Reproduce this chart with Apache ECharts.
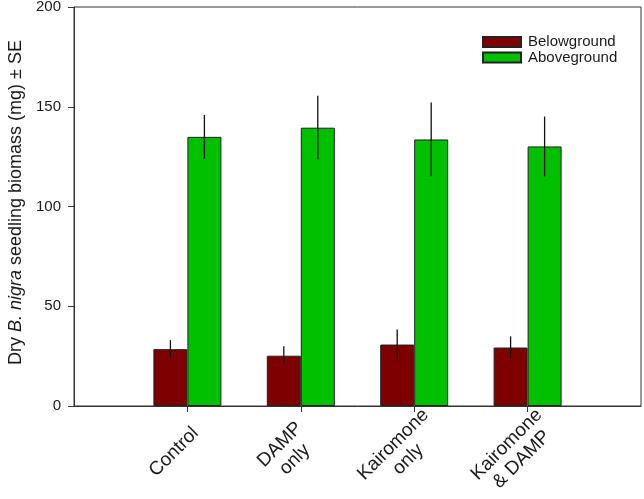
<!DOCTYPE html>
<html>
<head>
<meta charset="utf-8">
<script src="https://cdn.jsdelivr.net/npm/echarts@6/dist/echarts.min.js"></script>
<style>html,body{margin:0;padding:0;background:#fff;}#c{width:644px;height:499px;}</style>
</head>
<body>
<div id="c"></div>
<script>
const categories = ['Control', 'DAMP\nonly', 'Kairomone\nonly', 'Kairomone\n& DAMP'];
const belowground = [28.5, 25.2, 30.8, 29.3];
const belowgroundSE = [4.5, 4.7, 7.6, 5.6];
const aboveground = [134.9, 139.5, 133.6, 130.1];
const abovegroundSE = [11.0, 16.0, 18.5, 15.0];
const yTicks = [0, 50, 100, 150, 200];

const xData = [''].concat(categories, ['']);
const pad = arr => [null].concat(arr, [null]);
const errData = (vals, se) => vals.map((v, i) => [i + 1, v - se[i], v + se[i]]);
const BAR_W = 34;

function errRender(offset) {
  return function (params, api) {
    const lo = api.coord([api.value(0), api.value(1)]);
    const hi = api.coord([api.value(0), api.value(2)]);
    return {
      type: 'line',
      shape: { x1: lo[0] + offset, y1: lo[1], x2: hi[0] + offset, y2: hi[1] },
      style: { stroke: '#111', lineWidth: 1.3 }
    };
  };
}

const chart = echarts.init(document.getElementById('c'));
chart.setOption({
  animation: false,
  backgroundColor: '#fff',
  textStyle: { fontFamily: 'Liberation Sans, Arial, sans-serif' },
  grid: { left: 74, right: 3, top: 7, bottom: 93, outerBoundsMode: 'none', containLabel: false,
          show: true, borderColor: '#333', borderWidth: 1, backgroundColor: 'transparent' },
  legend: {
    orient: 'vertical', left: 482, top: 34.5, padding: 0, itemWidth: 38, itemHeight: 10, itemGap: 0.6,
    icon: 'rect',
    textStyle: { fontSize: 15, lineHeight: 15, color: '#1a1a1a', padding: [0, 0, 0, 2] },
    data: ['Belowground', 'Aboveground']
  },
  xAxis: {
    type: 'category', data: xData, boundaryGap: false,
    axisLine: { lineStyle: { color: '#333', width: 1 } },
    axisTick: { show: true, inside: false, length: 6, interval: (i) => i > 0 && i < xData.length - 1, lineStyle: { color: '#333' } },
    axisLabel: {
      interval: 0, rotate: 45, margin: 46, fontSize: 19, color: '#1a1a1a',
      align: 'center', verticalAlign: 'middle', padding: [0, 19, 19, 0],
      formatter: (v) => v ? v.split('\n').map(s => '{c|' + s + '}').join('\n') : '',
      rich: { c: { align: 'center', fontSize: 19, color: '#1a1a1a', lineHeight: 21 } }
    },
    splitLine: { show: false }
  },
  yAxis: {
    type: 'value', min: 0, max: 200, interval: 50,
    axisLine: { show: true, lineStyle: { color: '#333', width: 1 } },
    axisTick: { show: true, inside: false, length: 6, lineStyle: { color: '#333' } },
    axisLabel: { fontSize: 15, color: '#1a1a1a', margin: 13, formatter: (v) => yTicks.includes(v) ? String(v) : '' },
    splitLine: { show: false },
    name: 'Dry {i|B. nigra} seedling biomass (mg) ± SE',
    nameLocation: 'middle', nameGap: 46,
    nameTextStyle: { fontSize: 18, color: '#1a1a1a', padding: [0, 0, 0, 8], rich: { i: { fontStyle: 'italic', fontSize: 18, color: '#1a1a1a' } } }
  },
  series: [
    { name: 'Belowground', type: 'bar', data: pad(belowground), barWidth: BAR_W, barGap: '0%',
      itemStyle: { color: '#7f0000', borderColor: '#222', borderWidth: 1 } },
    { name: 'Aboveground', type: 'bar', data: pad(aboveground), barWidth: BAR_W, barGap: '0%',
      itemStyle: { color: '#00c000', borderColor: '#222', borderWidth: 1 } },
    { type: 'custom', renderItem: errRender(-BAR_W / 2), data: errData(belowground, belowgroundSE), z: 10, silent: true },
    { type: 'custom', renderItem: errRender(BAR_W / 2), data: errData(aboveground, abovegroundSE), z: 10, silent: true }
  ]
});
</script>
</body>
</html>
